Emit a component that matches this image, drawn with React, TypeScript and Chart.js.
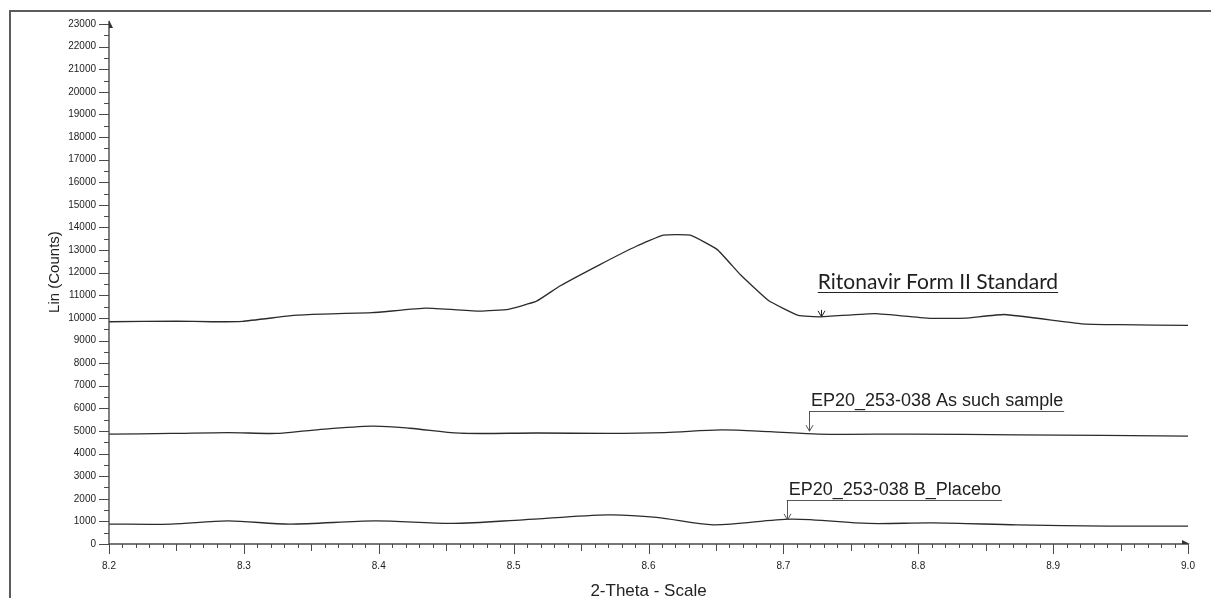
import React, { useEffect, useRef } from "react";
import { Chart, registerables } from "chart.js";

Chart.register(...registerables);

// ---- Data ----
const ritonavirTheta = [8.2, 8.25, 8.276, 8.299, 8.337, 8.358, 8.395, 8.435, 8.475, 8.496, 8.517, 8.534, 8.564, 8.591, 8.611, 8.631, 8.651, 8.668, 8.689, 8.711, 8.728, 8.768, 8.809, 8.835, 8.864, 8.921, 8.95, 9.0];
const ritonavirCounts = [9830, 9860, 9830, 9850, 10110, 10170, 10230, 10430, 10300, 10380, 10740, 11400, 12360, 13170, 13660, 13660, 13020, 11920, 10770, 10110, 10050, 10190, 9980, 9990, 10150, 9740, 9700, 9670];

const asSuchTheta = [8.2, 8.246, 8.288, 8.324, 8.35, 8.395, 8.423, 8.46, 8.517, 8.57, 8.612, 8.654, 8.69, 8.726, 8.795, 8.873, 9.0];
const asSuchCounts = [4860, 4890, 4930, 4890, 5030, 5210, 5120, 4900, 4910, 4890, 4930, 5050, 4970, 4860, 4860, 4830, 4770];

const placeboTheta = [8.2, 8.246, 8.288, 8.334, 8.397, 8.455, 8.507, 8.57, 8.606, 8.648, 8.706, 8.763, 8.81, 8.873, 8.941, 9.0];
const placeboCounts = [880, 880, 1020, 880, 1020, 910, 1070, 1290, 1180, 850, 1100, 910, 930, 850, 790, 790];

const xTickValues = [8.2, 8.3, 8.4, 8.5, 8.6, 8.7, 8.8, 8.9, 9.0];
const xTickLabels = ["8.2", "8.3", "8.4", "8.5", "8.6", "8.7", "8.8", "8.9", "9.0"];
const yTickValues = [0, 1000, 2000, 3000, 4000, 5000, 6000, 7000, 8000, 9000, 10000, 11000, 12000, 13000, 14000, 15000, 16000, 17000, 18000, 19000, 20000, 21000, 22000, 23000];
const yTickLabels = ["0", "1000", "2000", "3000", "4000", "5000", "6000", "7000", "8000", "9000", "10000", "11000", "12000", "13000", "14000", "15000", "16000", "17000", "18000", "19000", "20000", "21000", "22000", "23000"];

const xTitle = "2-Theta - Scale";
const yTitle = "Lin (Counts)";

// Annotation labels: arrow at theta, tip at count value, underline at count value
const labelTexts = ["Ritonavir Form II Standard", "EP20_253-038 As such sample", "EP20_253-038 B_Placebo"];
const labelArrowTheta = [8.728, 8.719, 8.7025];
const labelTextTheta = [8.7255, 8.719, 8.7025];
const labelTipCounts = [10050, 4990, 1070];
const labelLineCounts = [11160, 5885, 1956];

const ARIAL = "'Liberation Sans', Arial, Helvetica, sans-serif";

const decorPlugin = {
  id: "decor",
  afterDraw(chart: any) {
    const ctx = chart.ctx as CanvasRenderingContext2D;
    const { left, right, top, bottom } = chart.chartArea;
    const xs = chart.scales.x;
    const ys = chart.scales.y;
    ctx.save();

    // frame (top & left border of the original screenshot)
    ctx.strokeStyle = "#5c5c5c";
    ctx.lineWidth = 2;
    ctx.beginPath();
    ctx.moveTo(10, chart.height);
    ctx.lineTo(10, 11);
    ctx.lineTo(chart.width, 11);
    ctx.stroke();

    // axes lines
    ctx.strokeStyle = "#4a4a4a";
    ctx.lineWidth = 1.4;
    ctx.beginPath();
    ctx.moveTo(left, bottom);
    ctx.lineTo(left, top - 3);
    ctx.moveTo(left, bottom);
    ctx.lineTo(right, bottom);
    ctx.stroke();

    // y ticks (major every 1000, minor every 500)
    ctx.lineWidth = 1;
    ctx.beginPath();
    for (let i = 0; i <= 46; i++) {
      const v = i * 500;
      const py = Math.round(ys.getPixelForValue(v)) + 0.5;
      const len = i % 2 === 0 ? 10 : 5;
      ctx.moveTo(left - len, py);
      ctx.lineTo(left, py);
    }
    // x ticks (major 0.1, medium 0.05, minor 0.01)
    for (let i = 0; i <= 80; i++) {
      const v = 8.2 + i * 0.01;
      const px = Math.round(xs.getPixelForValue(v)) + 0.5;
      const len = i % 10 === 0 ? 10 : i % 5 === 0 ? 7 : 4;
      ctx.moveTo(px, bottom);
      ctx.lineTo(px, bottom + len);
    }
    ctx.stroke();

    // axis arrows (half arrowheads)
    ctx.fillStyle = "#333";
    ctx.beginPath();
    ctx.moveTo(left, top - 4);
    ctx.lineTo(left + 4, top + 4);
    ctx.lineTo(left, top + 4);
    ctx.closePath();
    ctx.fill();
    ctx.beginPath();
    ctx.moveTo(right + 2, bottom);
    ctx.lineTo(right - 6, bottom - 4);
    ctx.lineTo(right - 6, bottom);
    ctx.closePath();
    ctx.fill();

    // axis titles
    ctx.fillStyle = "#222";
    ctx.font = `17px ${ARIAL}`;
    ctx.textAlign = "center";
    ctx.textBaseline = "middle";
    ctx.fillText(xTitle, (left + right) / 2, 591);
    ctx.save();
    ctx.translate(55, top + (bottom - top) * 0.477);
    ctx.rotate(-Math.PI / 2);
    ctx.font = `15px ${ARIAL}`;
    ctx.fillText(yTitle, 0, 0);
    ctx.restore();

    // annotations
    for (let i = 0; i < labelTexts.length; i++) {
      const ax = Math.round(xs.getPixelForValue(labelArrowTheta[i])) + 0.5;
      const tx = xs.getPixelForValue(labelTextTheta[i]);
      const tipY = ys.getPixelForValue(labelTipCounts[i]);
      const lineY = Math.round(ys.getPixelForValue(labelLineCounts[i])) + 0.5;
      const first = i === 0;
      ctx.font = first ? `21px Lato, 'Open Sans', sans-serif` : `18px ${ARIAL}`;
      ctx.textAlign = "left";
      ctx.textBaseline = "alphabetic";
      ctx.fillStyle = first ? "#1e1e1e" : "#222";
      const w = ctx.measureText(labelTexts[i]).width;
      ctx.fillText(labelTexts[i], tx + (first ? 0 : 2), lineY - (first ? 3.5 : 6));
      ctx.strokeStyle = first ? "#222" : "#555";
      ctx.lineWidth = 1;
      ctx.beginPath();
      ctx.moveTo(tx, lineY);
      ctx.lineTo(tx + w + (first ? 0 : 3), lineY);
      // arrow stem
      const stemTop = first ? tipY - 7 : lineY;
      ctx.moveTo(ax, stemTop);
      ctx.lineTo(ax, tipY);
      // arrow head
      ctx.moveTo(ax - 3.5, tipY - 6);
      ctx.lineTo(ax, tipY);
      ctx.lineTo(ax + 3.5, tipY - 6);
      ctx.stroke();
    }

    ctx.restore();
  },
};

function toPoints(xsArr: number[], ysArr: number[]) {
  return xsArr.map((x, i) => ({ x, y: ysArr[i] }));
}

export default function App() {
  const canvasRef = useRef<HTMLCanvasElement | null>(null);

  useEffect(() => {
    const canvas = canvasRef.current;
    if (!canvas) return;
    const lineStyle = {
      borderColor: "#2b2b2b",
      borderWidth: 1.3,
      pointRadius: 0,
      tension: 0.12,
      fill: false,
    };
    const chart = new Chart(canvas, {
      type: "line",
      data: {
        datasets: [
          { label: labelTexts[0], data: toPoints(ritonavirTheta, ritonavirCounts), ...lineStyle },
          { label: labelTexts[1], data: toPoints(asSuchTheta, asSuchCounts), ...lineStyle, tension: 0.3 },
          { label: labelTexts[2], data: toPoints(placeboTheta, placeboCounts), ...lineStyle, tension: 0.3 },
        ],
      },
      options: {
        animation: false,
        responsive: false,
        maintainAspectRatio: false,
        events: [],
        layout: { padding: { left: 0, right: 23, top: 24, bottom: 0 } },
        plugins: {
          legend: { display: false },
          tooltip: { enabled: false },
          title: { display: false },
        },
        scales: {
          x: {
            type: "linear",
            min: 8.2,
            max: 9.0,
            grid: { display: false, drawTicks: false },
            border: { display: false },
            afterBuildTicks: (s: any) => {
              s.ticks = xTickValues.map((v) => ({ value: v }));
            },
            afterFit: (s: any) => {
              s.height = 54;
            },
            ticks: {
              autoSkip: false,
              maxRotation: 0,
              padding: 16,
              color: "#222",
              font: { size: 10, family: ARIAL },
              callback: (_v: any, idx: number) => xTickLabels[idx],
            },
          },
          y: {
            type: "linear",
            min: 0,
            max: 23000,
            grid: { display: false, drawTicks: false },
            border: { display: false },
            afterBuildTicks: (s: any) => {
              s.ticks = yTickValues.map((v) => ({ value: v }));
            },
            afterFit: (s: any) => {
              s.width = 109;
            },
            ticks: {
              autoSkip: false,
              padding: 13,
              color: "#222",
              font: { size: 10, family: ARIAL },
              callback: (_v: any, idx: number) => yTickLabels[idx],
            },
          },
        },
      },
      plugins: [decorPlugin],
    } as any);
    return () => chart.destroy();
  }, []);

  return (
    <div style={{ position: "absolute", left: 0, top: 0, width: 1211, height: 598, background: "#fff" }}>
      <canvas ref={canvasRef} width={1211} height={598} style={{ display: "block" }} />
    </div>
  );
}
